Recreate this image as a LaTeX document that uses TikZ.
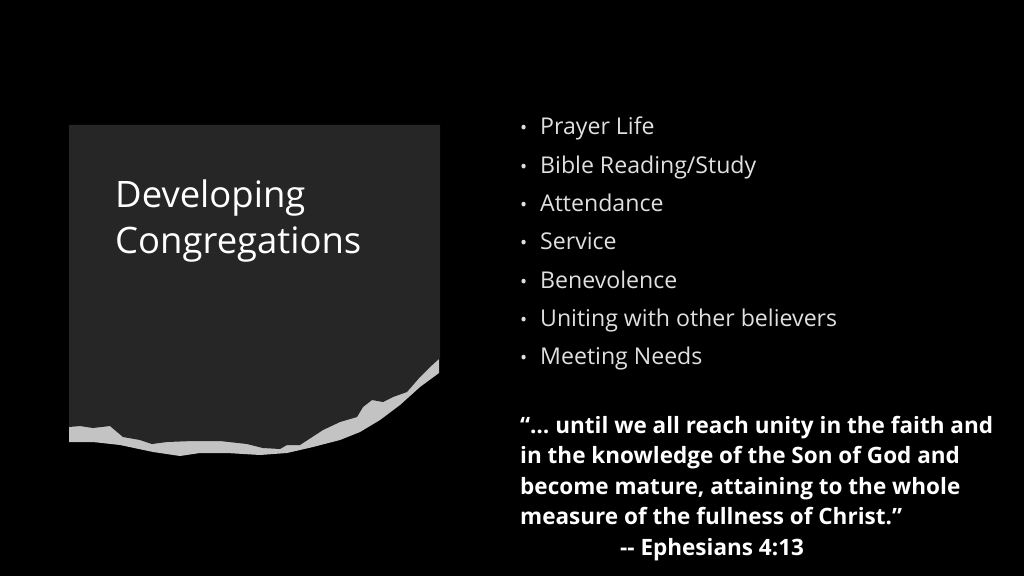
\documentclass[tikz,border=0pt]{standalone}
\usepackage{fontspec}
\setmainfont{Open Sans}[Ligatures={NoCommon}]
\definecolor{boxgray}{HTML}{262626}
\definecolor{tornband}{HTML}{C3C3C3}
\definecolor{listgray}{HTML}{E0E0E0}
\begin{document}
\begin{tikzpicture}[x=1bp,y=-1bp,
  titletext/.style={anchor=base west,inner sep=0pt,text=white,font=\fontsize{36.6}{36.6}\selectfont},
  listitem/.style={anchor=base west,inner sep=0pt,text=listgray,font=\fontsize{23.2}{23.2}\selectfont},
  bulletmark/.style={anchor=base west,inner sep=0pt,text=listgray,font=\fontsize{19}{19}\selectfont},
  quoteline/.style={anchor=base west,inner sep=0pt,text=white,font=\fontsize{22.6}{22.6}\selectfont\bfseries}]
\fill[black] (0,0) rectangle (1024,576);
\useasboundingbox (0,0) rectangle (1024,576);
% light torn band
\fill[tornband] (69,420) -- (69,442) -- (93,442) -- (120,445) -- (153,452) -- (180,456) -- (200,453)
  -- (227,453) -- (260,455) -- (287,453) -- (313,447) -- (340,440) -- (360,432) -- (380,420)
  -- (400,405) -- (420,387) -- (439,373) -- (439,350) -- cycle;
% dark box with torn bottom
\fill[boxgray] (69,125) -- (440,125) -- (440,358) -- (430,367) -- (420,377) -- (407,392) -- (393,397)
  -- (383,402) -- (372,400) -- (363,407) -- (357,417) -- (340,422) -- (323,430) -- (300,445)
  -- (287,445) -- (280,449) -- (263,448) -- (247,444) -- (220,441) -- (193,441) -- (167,442)
  -- (152,444) -- (140,440) -- (123,437) -- (110,426) -- (93,428) -- (80,426) -- (69,427) -- cycle;
% title
\node[titletext] (t1) at (115,208) {Developing};
\node[titletext] (t2) at (115,254) {Congregations};
% bullet list
\foreach \i/\txt in {0/{Prayer Life},1/{Bible Reading/Study},2/{Attendance},3/{Service},4/{Benevolence},5/{Uniting with other believers},6/{Meeting Needs}}{
  \node[bulletmark] (b\i) at (520,135+38.3*\i) {•};
  \node[listitem] (l\i) at (540,135+38.3*\i) {\txt};
}
% quote
\node[quoteline] (q1) at (520,433) {“… until we all reach unity in the faith and};
\node[quoteline] (q2) at (520,463.5) {in the knowledge of the Son of God and};
\node[quoteline] (q3) at (520,494) {become mature, attaining to the whole};
\node[quoteline] (q4) at (520,524.5) {measure of the fullness of Christ.”};
\node[quoteline] (q5) at (620,555) {-{}- Ephesians 4:13};
\end{tikzpicture}
\end{document}
